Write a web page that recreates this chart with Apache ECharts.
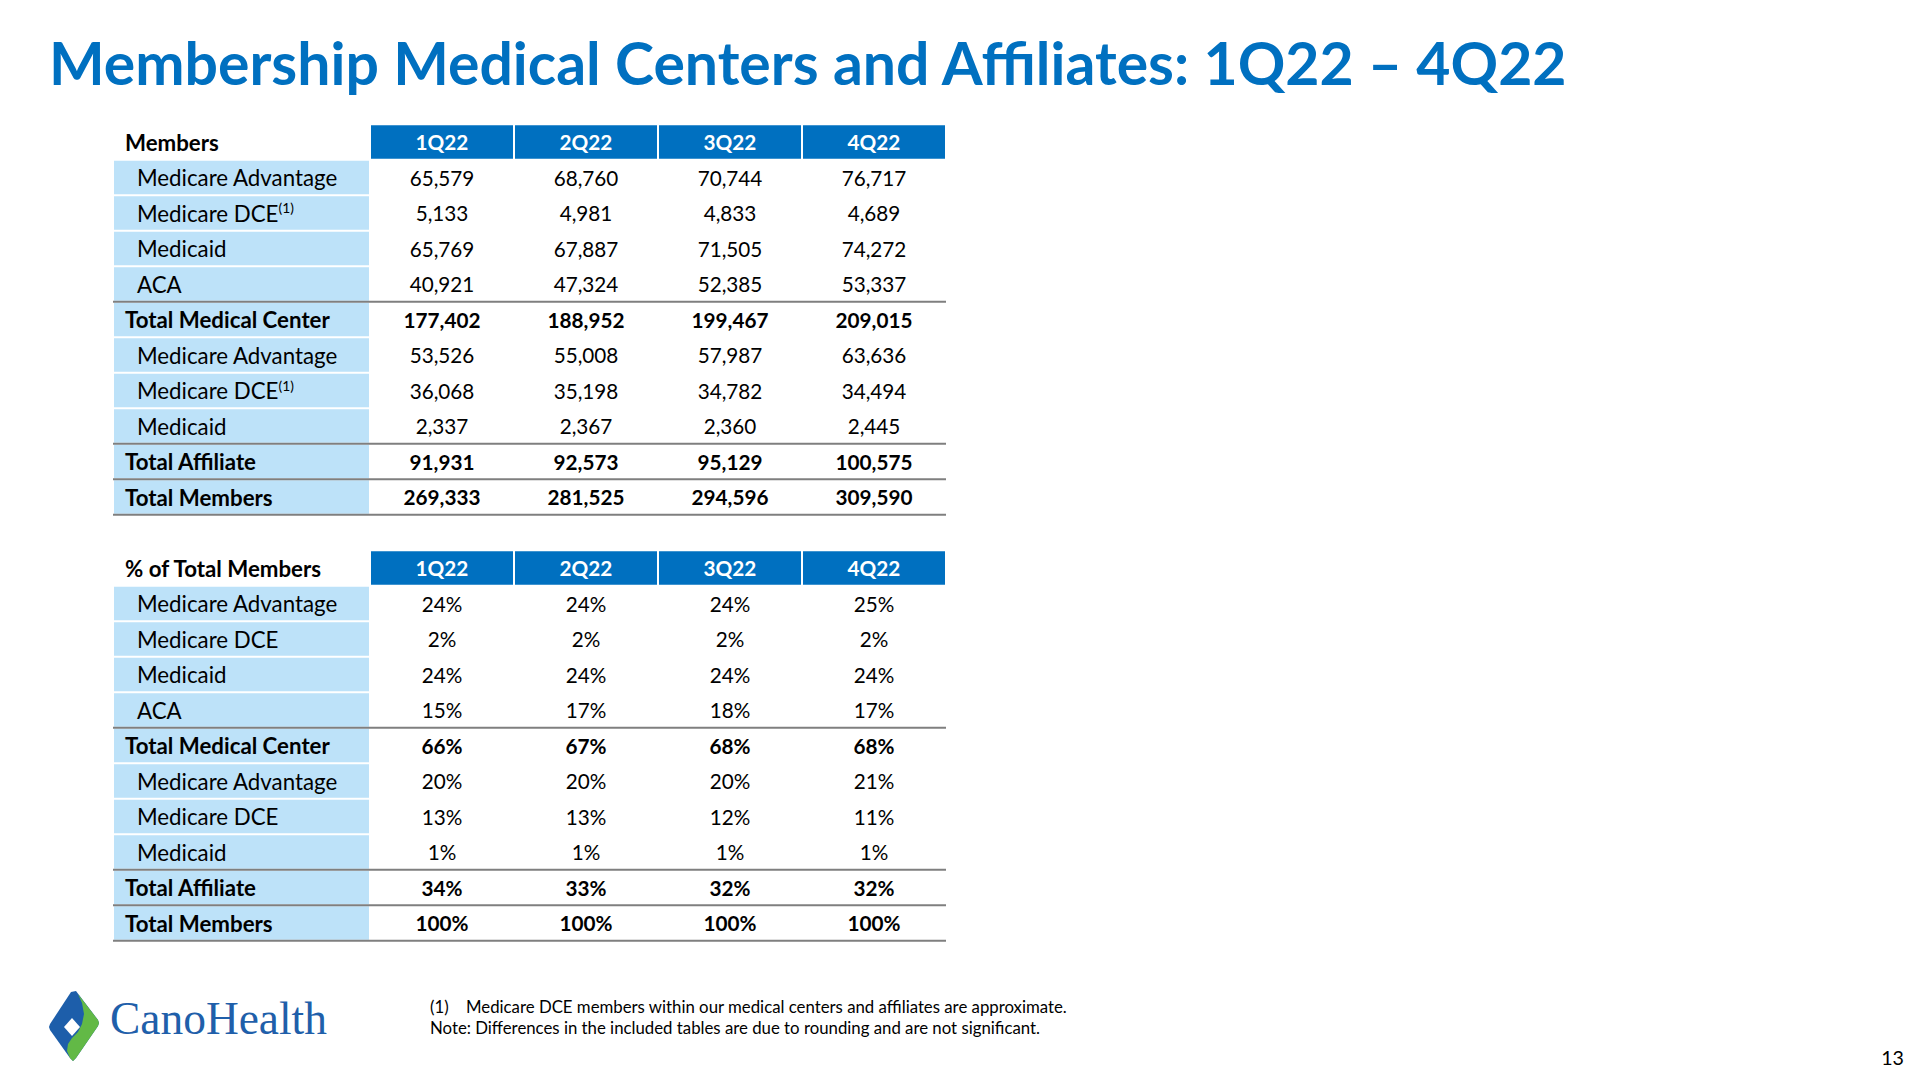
<!DOCTYPE html>
<html><head><meta charset="utf-8">
<script src="https://cdn.jsdelivr.net/npm/echarts@6/dist/echarts.min.js"></script>
<style>html,body{margin:0;padding:0;background:#fff;}#c{width:1920px;height:1080px;}</style>
</head><body><div id="c"></div>
<script>
// ---------------- DATA ----------------
const titleText = 'Membership Medical Centers and Affiliates: 1Q22 \u2013 4Q22';
const quarters = ['1Q22', '2Q22', '3Q22', '4Q22'];
const tableTitles = ['Members', '% of Total Members'];
const rowLabels = ['Medicare Advantage', 'Medicare DCE', 'Medicaid', 'ACA', 'Total Medical Center',
  'Medicare Advantage', 'Medicare DCE', 'Medicaid', 'Total Affiliate', 'Total Members'];
const rowMarks = ['', '(1)', '', '', '', '', '(1)', '', '', ''];   // superscripts, members table only
const membersQ1 = [65579, 5133, 65769, 40921, 177402, 53526, 36068, 2337, 91931, 269333];
const membersQ2 = [68760, 4981, 67887, 47324, 188952, 55008, 35198, 2367, 92573, 281525];
const membersQ3 = [70744, 4833, 71505, 52385, 199467, 57987, 34782, 2360, 95129, 294596];
const membersQ4 = [76717, 4689, 74272, 53337, 209015, 63636, 34494, 2445, 100575, 309590];
const pctQ1 = [24, 2, 24, 15, 66, 20, 13, 1, 34, 100];
const pctQ2 = [24, 2, 24, 17, 67, 20, 13, 1, 33, 100];
const pctQ3 = [24, 2, 24, 18, 68, 20, 12, 1, 32, 100];
const pctQ4 = [25, 2, 24, 17, 68, 21, 11, 1, 32, 100];
const footnote1Mark = '(1)';
const footnote1 = 'Medicare DCE members within our medical centers and affiliates are approximate.';
const footnote2 = 'Note: Differences in the included tables are due to rounding and are not significant.';
const pageNumber = '13';
const logoText = 'CanoHealth';

// ---------------- STYLE / LAYOUT ----------------
const FONT = 'Lato';
const BLUE = '#0070C0';
const LIGHT = '#BDE2F9';
const LINE = '#7F7F7F';
const LABEL_UNITS = 256 / 144;
const TOTAL_UNITS = LABEL_UNITS + quarters.length;

const cv = document.createElement('canvas').getContext('2d');
function measure(t, w, s, f) { cv.font = w + ' ' + s + 'px ' + f; return cv.measureText(t).width; }
const regLabel = 22 * 201 / measure('Medicare Advantage', 'normal', 22, FONT);
const regNum = 22 * 64.7 / measure('65,579', 'normal', 22, FONT);
const boldLabel = 22 * 205 / measure('Total Medical Center', 'bold', 22, FONT);
const boldNum = 22 * 77 / measure('177,402', 'bold', 22, FONT);
const titleSize = 60;
const titleScale = 1520 / measure(titleText, 'bold', titleSize, FONT);
const footSize = 20 * 602 / measure(footnote1, 'normal', 20, FONT);
const logoSize = 46 * 217 / measure(logoText, 'normal', 46, 'Liberation Serif');

// ---------------- BUILD CELLS ----------------
const memberCols = [membersQ1, membersQ2, membersQ3, membersQ4];
const pctCols = [pctQ1, pctQ2, pctQ3, pctQ4];
const rowIds = [];
for (let i = 0; i < 23; i++) rowIds.push('r' + i);
const cellData = [], cellMeta = [], lineData = [], lineMeta = [];
[memberCols, pctCols].forEach((cols, t) => {
  const base = t * 12;
  cellData.push([0, LABEL_UNITS, base]); cellMeta.push({ kind: 'corner', text: tableTitles[t] });
  quarters.forEach((q, qi) => {
    cellData.push([LABEL_UNITS + qi, LABEL_UNITS + qi + 1, base]); cellMeta.push({ kind: 'head', text: q });
  });
  rowLabels.forEach((lab, r) => {
    const row = base + 1 + r;
    const bold = lab.indexOf('Total') === 0;
    cellData.push([0, LABEL_UNITS, row]);
    cellMeta.push({ kind: 'label', text: lab, bold: bold, mark: t === 0 ? rowMarks[r] : '' });
    cols.forEach((arr, qi) => {
      const v = arr[r];
      cellData.push([LABEL_UNITS + qi, LABEL_UNITS + qi + 1, row]);
      cellMeta.push({ kind: 'num', bold: bold, text: t === 0 ? v.toLocaleString('en-US') : v + '%' });
    });
    if (bold) { lineData.push([0, TOTAL_UNITS, row]); lineMeta.push('top'); }
    if (r === rowLabels.length - 1) { lineData.push([0, TOTAL_UNITS, row]); lineMeta.push('bottom'); }
  });
});

function geom(api) {
  const a = api.coord([api.value(0), api.value(2)]);
  const b = api.coord([api.value(1), api.value(2)]);
  const bh = api.size([1, 1])[1];
  return { x0: a[0], x1: b[0], cy: a[1], top: a[1] - bh / 2, bh: bh };
}
function txt(x, y, text, size, weight, fill, align) {
  return { type: 'text', style: { x: x, y: y, text: text, fontSize: size, fontFamily: FONT, fontWeight: weight, fill: fill, align: align, verticalAlign: 'middle' } };
}
function renderCell(params, api) {
  const m = cellMeta[params.dataIndex];
  const g = geom(api);
  const w = g.x1 - g.x0;
  if (m.kind === 'corner') {
    return txt(g.x0 + 11, g.cy, m.text, boldLabel, 'bold', '#000', 'left');
  }
  if (m.kind === 'head') {
    return { type: 'group', children: [
      { type: 'rect', shape: { x: g.x0 + 1, y: g.top + 1, width: w - 2, height: g.bh - 2 }, style: { fill: BLUE } },
      txt(g.x0 + w / 2, g.cy, m.text, boldNum, 'bold', '#fff', 'center')
    ] };
  }
  if (m.kind === 'label') {
    const children = [{ type: 'rect', shape: { x: g.x0, y: g.top + 1, width: w - 1, height: g.bh - 2 }, style: { fill: LIGHT } }];
    if (m.mark) {
      children.push({ type: 'text', style: { x: g.x0 + 23, y: g.cy, text: '{n|' + m.text + '}{s|' + m.mark + '}', align: 'left', verticalAlign: 'middle',
        rich: { n: { fontSize: regLabel, fontFamily: FONT, fill: '#000', lineHeight: regLabel * 1.1 },
                s: { fontSize: regLabel * 0.62, fontFamily: FONT, fill: '#000', verticalAlign: 'top', lineHeight: regLabel * 0.7 } } } });
    } else {
      children.push(txt(g.x0 + (m.bold ? 11 : 23), g.cy, m.text, m.bold ? boldLabel : regLabel, m.bold ? 'bold' : 'normal', '#000', 'left'));
    }
    return { type: 'group', children: children };
  }
  return txt(g.x0 + w / 2, g.cy, m.text, m.bold ? boldNum : regNum, m.bold ? 'bold' : 'normal', '#000', 'center');
}
function renderLine(params, api) {
  const g = geom(api);
  const y = lineMeta[params.dataIndex] === 'top' ? g.top : g.top + g.bh;
  return { type: 'line', shape: { x1: g.x0 - 1, y1: y, x2: g.x1, y2: y }, style: { stroke: LINE, lineWidth: 2.2 } };
}

const chart = echarts.init(document.getElementById('c'), null, { renderer: 'svg', width: 1920, height: 1080 });
chart.setOption({
  animation: false,
  backgroundColor: '#fff',
  grid: { left: 114, top: 124.25, width: 832, height: 816.5 },
  xAxis: { type: 'value', min: 0, max: TOTAL_UNITS, show: false },
  yAxis: { type: 'category', data: rowIds, inverse: true, show: false },
  series: [
    { type: 'custom', data: cellData, encode: { x: [0, 1], y: 2 }, renderItem: renderCell, clip: false, silent: true, z: 2 },
    { type: 'custom', data: lineData, encode: { x: [0, 1], y: 2 }, renderItem: renderLine, clip: false, silent: true, z: 3 }
  ],
  graphic: [
    { type: 'text', x: 49, y: 62, scaleX: titleScale, style: { text: titleText, fontSize: titleSize, fontWeight: 'bold', fontFamily: FONT, fill: BLUE, align: 'left', verticalAlign: 'middle' } },
    { type: 'text', x: 430, y: 1006, style: { text: footnote1Mark, fontSize: footSize, fontFamily: FONT, fill: '#000', align: 'left', verticalAlign: 'middle' } },
    { type: 'text', x: 466, y: 1006, style: { text: footnote1, fontSize: footSize, fontFamily: FONT, fill: '#000', align: 'left', verticalAlign: 'middle' } },
    { type: 'text', x: 430, y: 1027, style: { text: footnote2, fontSize: footSize, fontFamily: FONT, fill: '#000', align: 'left', verticalAlign: 'middle' } },
    { type: 'text', x: 1904, y: 1057, style: { text: pageNumber, fontSize: regNum * 0.95, fontFamily: FONT, fill: '#000', align: 'right', verticalAlign: 'middle' } },
    { type: 'polygon', shape: { points: [[71,992],[76,991],[98,1020],[99,1023],[98,1026],[76,1058],[73,1061],[70,1058],[50,1030],[49,1027],[50,1024]] }, style: { fill: '#1D5EAA' } },
    { type: 'polygon', shape: { points: [[78,994],[98,1020],[99,1023],[98,1026],[76,1058],[73,1061],[70,1058],[67,1051],[68,1044],[72,1038],[78,1032],[82,1024],[84,1014],[82,1003]] }, style: { fill: '#62B946' } },
    { type: 'polygon', shape: { points: [[72,1018],[80,1027],[72,1036],[64,1027]] }, style: { fill: '#fff' } },
    { type: 'text', x: 110, y: 1041, style: { text: logoText, fontSize: logoSize, fontFamily: 'Liberation Serif', fill: '#1F5FAA', align: 'left', verticalAlign: 'bottom' } }
  ]
});
</script>
</body></html>
